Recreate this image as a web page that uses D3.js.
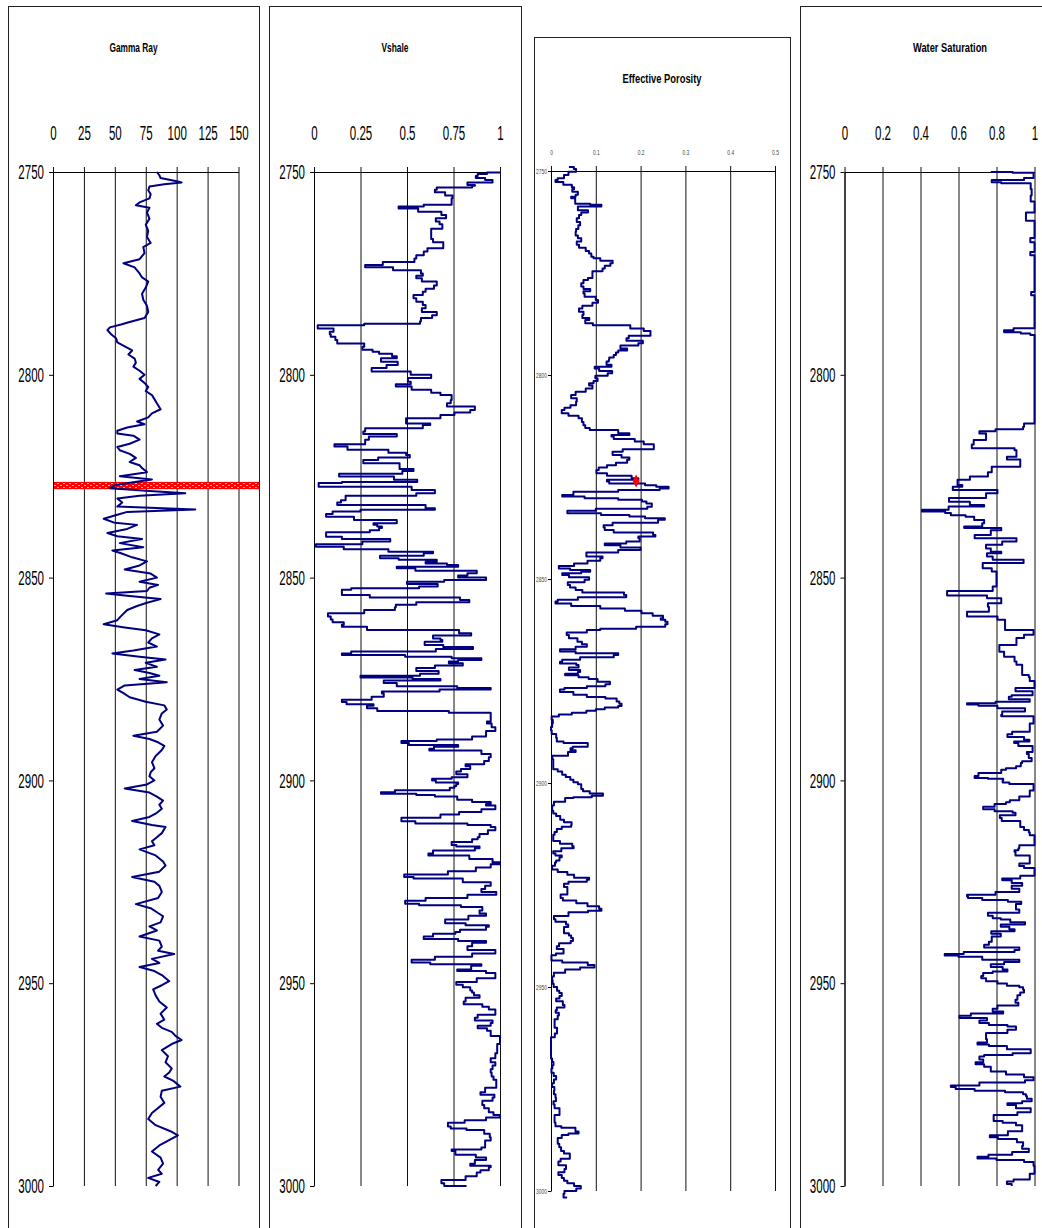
<!DOCTYPE html>
<html>
<head>
<meta charset="utf-8">
<script src="https://cdn.jsdelivr.net/npm/d3@7"></script>
<style>
  body { margin: 0; background: #fff; }
  svg { display: block; }
</style>
</head>
<body>
<div id="chart"></div>
<script>
// Tick Values
const depthTicks = [2750, 2800, 2850, 2900, 2950, 3000];
const gammaTicks = [0, 25, 50, 75, 100, 125, 150];
const vshaleTicks = [0, 0.25, 0.5, 0.75, 1];
const porosityTicks = [0, 0.1, 0.2, 0.3, 0.4, 0.5];
const swTicks = [0, 0.2, 0.4, 0.6, 0.8, 1];

// Log Curves As [depth, value]
const gammaRay = [
  [2750,84],[2750.8,86],[2751.5,87],[2752.3,100],[2752.6,104],[2753,90],[2753.6,78],[2754.5,77],[2755.5,79],[2756.5,78],[2757.5,70],[2758.2,67],[2758.8,78],[2760,76],[2761.5,78],[2763,75],[2764.5,77],[2766,76],[2767.5,79],[2768.5,73],[2770,74],[2771.5,70],[2772.5,57],[2773.5,66],[2775,70],[2776,72],[2777,77],[2778.5,75],[2780,72],[2781.5,73],[2783,76],[2784.5,77],[2786,74],[2787,62],[2787.6,55],[2788.3,46],[2789,44],[2790,47],[2791,51],[2792,52],[2793,58],[2794,64],[2795,61],[2796,66],[2797,67],[2798,65],[2799,70],[2800,74],[2801,70],[2802,74],[2803,77],[2804,75],[2805,80],[2806,82],[2807,84],[2808.5,87],[2809.5,80],[2810.5,77],[2811.5,68],[2812.2,74],[2813,60],[2813.8,52],[2814.5,52],[2815,65],[2816,70],[2817,62],[2817.8,52],[2818.6,54],[2819.5,62],[2820.5,67],[2821.5,62],[2822.3,70],[2823,72],[2824,76],[2825,54],[2825.8,80],[2826.5,65],[2827.2,50],[2828,46],[2828.6,75],[2829.2,107],[2829.8,70],[2830.5,52],[2831.5,56],[2832.5,52],[2833.2,115],[2833.8,60],[2834.5,52],[2835.5,41],[2836.5,50],[2837,68],[2838,60],[2839,44],[2839.8,52],[2840.5,72],[2841.5,54],[2842.5,73],[2843.3,48],[2844,55],[2845,64],[2846,76],[2847,70],[2848,58],[2849,79],[2850,84],[2851,70],[2851.8,85],[2852.5,78],[2853.3,76],[2853.9,43],[2854.5,60],[2855.3,87],[2856.2,76],[2857,68],[2858,60],[2859.5,55],[2860.5,52],[2861.5,41],[2862.3,58],[2863,75],[2864,86],[2865,80],[2866,77],[2867,84],[2868,65],[2868.7,48],[2869.5,70],[2870.2,91],[2871,75],[2872,84],
  [2872.8,66],[2873.5,78],[2874.2,86],[2875,70],[2875.8,92],[2876.6,58],[2877.6,52],[2878.5,57],[2879.5,62],[2880.6,75],[2881.5,90],[2882.5,92],[2883.5,88],[2885,86],[2886.5,89],[2888,84],[2889,65],[2889.8,78],[2890.6,85],[2891.5,90],[2892.5,88],[2894,83],[2895.5,80],[2897,82],[2898,79],[2899,78],[2900,82],[2901,76],[2902,58],[2903,78],[2904,84],[2905,89],[2906,86],[2907,88],[2908,84],[2909,78],[2910,64],[2911,80],[2911.5,91],[2913,88],[2914,84],[2915,80],[2916,82],[2917,70],[2918.5,83],[2920,89],[2921,91],[2922.5,86],[2923.8,64],[2925,82],[2926,86],[2927.5,88],[2929,85],[2930.5,67],[2931.5,79],[2932.5,84],[2933.5,89],[2935,87],[2936,78],[2937,84],[2938.5,70],[2939.5,86],[2941,88],[2942,85],[2942.8,98],[2944,80],[2945,86],[2946,70],[2947,82],[2948,88],[2949.5,94],[2950.5,88],[2951.5,81],[2953,83],[2954.5,86],[2956,92],[2957.5,87],[2959,90],[2960,84],[2961,88],[2962,96],[2963,99],[2964,104],[2965,96],[2966.5,88],[2968,93],[2969.5,91],[2971,96],[2972,94],[2973,90],[2974,97],[2975.5,103],[2976.5,88],[2978,87],[2979.5,90],[2981,84],[2982,80],[2983.5,77],[2985,83],[2986.5,95],[2987.5,101],[2988.5,95],[2990,86],[2991.5,80],[2993,87],[2994.5,89],[2996,85],[2997,88],[2998,77],[2999,86],[3000,83]
];

const vshale = [
  [2750.1,1.0],[2750.5,0.86],[2751,0.9],[2751.5,0.84],[2752,1.0],[2752.6,0.92],[2753.2,0.73],[2753.4,1.0],[2753.8,0.7],[2754.4,0.62],[2755,0.68],[2755.8,0.73],[2756.5,0.76],[2757.3,0.72],[2758.1,0.76],[2758.5,0.42],[2759,0.49],[2759.8,0.63],[2760.6,0.74],[2761.4,0.68],[2762.2,0.63],[2762.9,0.72],[2764,0.66],[2765.5,0.6],[2766.5,0.66],[2767.3,0.62],[2768,0.77],[2768.8,0.62],[2769.6,0.6],[2770.5,0.58],[2771.3,0.52],[2772.2,0.56],[2772.9,0.18],[2773.5,0.37],[2774.2,0.48],[2775,0.67],[2775.6,0.5],[2776.2,0.6],[2777,0.56],[2778,0.76],[2778.8,0.53],[2779.5,0.67],[2780.3,0.5],[2781.1,0.57],[2782,0.53],[2782.8,0.64],[2783.6,0.56],[2784.5,0.6],[2785.3,0.72],[2786,0.55],[2786.8,0.6],[2787.4,0.54],[2787.8,0.0],[2788.6,0.04],[2789.4,0.17],[2790,0.0],[2790.6,0.18],[2791.4,0.05],[2792.3,0.2],[2793.1,0.34],[2793.8,0.18],[2794.3,0.45],[2794.8,0.25],[2795.4,0.59],[2795.9,0.3],[2796.8,0.42],[2797.6,0.48],[2798.3,0.3],[2799.2,0.32],[2800,0.72],[2800.8,0.54],[2801.7,0.47],[2802.3,0.57],[2802.9,0.31],[2803.7,0.74],[2804.4,0.52],[2805,0.84],[2805.6,0.64],[2806.2,0.84],[2807,0.63],[2807.8,0.8],[2808.7,0.93],[2809.3,0.75],[2809.9,0.76],[2810.7,0.6],[2811.5,0.39],[2812,0.6],[2812.4,0.65],[2813.2,0.52],[2814,0.03],[2814.6,0.5],[2815.2,0.39],[2816,0.2],[2816.5,0.35],[2817.1,0.2],[2817.7,0.02],[2818.5,0.34],[2819.2,0.46],[2819.8,0.53],[2820.4,0.5],[2821,0.19],[2821.8,0.34],[2822.6,0.58],[2823.2,0.34],[2823.7,0.73],[2824.4,0.22],[2825.1,0.05],[2825.9,0.81],[2826.4,0.3],[2826.7,0.0],[2827.6,0.05],[2828.4,1.0],[2828.8,0.3],[2829.2,1.0],[2829.8,0.1],[2830.9,0.24],[2831.5,0.05],[2832.1,0.2],[2832.9,1.0],[2833.3,0.3],[2833.7,0.2],[2834.3,0.0],[2835,0.13],[2835.8,0.3],[2836.6,0.59],[2837,0.05],[2837.4,0.63],[2837.8,0.1],[2838.3,0.6],[2838.8,0.0],[2839.4,0.13],[2839.9,0.0],[2840.5,0.3],[2841.1,0.52],[2841.8,0.0],[2842.4,0.02],[2843,0.3],[2843.6,0.5],[2844,0.78],[2844.6,0.4],[2845.2,0.31],[2845.6,0.6],[2846.1,0.72],[2846.5,0.48],[2846.9,0.95],[2847.3,0.6],[2847.7,0.29],[2848.3,0.8],[2848.9,0.95],[2849.5,0.7],[2850,0.85],[2850.6,1.0],[2851,0.4],[2851.6,0.6],[2852.2,0.73],[2852.6,0.4],[2853,0.0],[2853.6,0.3],[2854.3,0.0],[2854.9,0.6],[2855.5,0.97],[2856.1,0.7],[2856.7,0.4],[2857.3,0.48],[2858,0.39],[2858.8,0.15],[2859.6,0.0],[2860.3,0.18],[2861,0.02],[2861.6,0.3],[2862.1,0.0],[2862.9,0.57],[2863.7,0.99],[2864.3,0.7],[2865,0.58],[2865.4,0.78],[2865.8,0.6],[2866.6,0.59],[2867.1,0.8],[2867.6,0.91],[2868.2,0.4],[2868.7,0.0],[2869.1,0.3],[2869.5,0.68],[2869.9,0.8],[2870.3,1.0],[2870.7,0.55],[2871.1,0.9],[2871.7,0.7],[2872.3,0.6],
  [2873,0.5],[2873.7,0.84],[2874.2,0.3],[2874.6,0.2],[2875,0.86],[2875.4,0.5],[2876,0.25],[2876.8,0.64],[2877.2,0.9],[2877.6,1.0],[2878.1,0.35],[2878.6,0.38],[2879.4,0.37],[2880.1,0.25],[2880.7,0.05],[2881.2,0.3],[2881.6,0.34],[2882.2,0.23],[2882.9,0.45],[2883.3,1.0],[2884,0.9],[2885.1,1.0],[2885.5,0.9],[2886,0.96],[2886.9,0.95],[2887.8,1.0],[2888.6,0.85],[2889.2,1.0],[2889.9,0.7],[2890.3,0.62],[2890.8,0.32],[2891.3,0.7],[2891.7,0.85],[2892.2,0.44],[2892.6,0.8],[2893.5,1.0],[2894.3,0.9],[2895.2,0.98],[2896,0.85],[2896.5,0.78],[2897.2,0.9],[2897.8,0.68],[2898.5,0.85],[2899.2,0.8],[2899.6,0.68],[2900,0.59],[2900.5,0.72],[2900.9,0.83],[2901.4,0.7],[2901.8,0.81],[2902.4,0.65],[2902.9,0.22],[2903.3,0.5],[2903.6,0.6],[2904,0.7],[2904.4,0.84],[2904.8,0.7],[2905.3,1.0],[2905.8,0.9],[2906.2,0.95],[2907.1,1.0],[2907.8,0.8],[2908.4,0.76],[2909.2,0.6],[2910.1,0.34],[2910.6,0.75],[2911,0.9],[2911.5,1.0],[2912.3,0.95],[2913.2,0.92],[2914,0.86],[2914.5,0.9],[2915.2,0.8],[2915.9,0.68],[2916.3,0.85],[2916.7,0.93],[2917.3,0.8],[2918,0.48],[2918.5,0.75],[2919.4,0.92],[2920.2,1.0],[2920.7,1.0],[2921.5,0.9],[2922.4,0.84],[2923.2,0.6],[2923.8,0.37],[2924.2,0.7],[2925.1,0.9],[2926,1.0],[2926.8,0.84],[2927.5,0.96],[2928.2,1.0],[2929,0.65],[2929.7,0.55],[2930.4,0.43],[2930.8,0.7],[2931.2,0.88],[2932.1,0.93],[2932.8,0.85],[2933.4,1.0],[2934.3,0.66],[2935.2,0.75],[2935.7,0.88],[2936.1,1.0],[2936.8,0.85],[2937.4,0.72],[2937.8,0.8],[2938.5,0.48],[2939.1,0.7],[2939.6,0.85],[2940,1.0],[2940.9,0.7],[2941.8,0.95],[2942.7,1.0],[2943.5,0.7],[2944.2,0.6],[2944.9,0.45],[2945.3,0.8],[2945.7,1.0],[2946.6,0.69],[2947,0.85],[2947.5,1.0],[2948.2,0.95],[2948.8,1.0],[2949.7,0.75],[2950.4,0.78],[2951,0.82],[2951.8,0.86],[2952.3,0.84],[2953,0.88],[2953.6,0.9],[2954.5,0.73],[2955.2,0.88],[2955.8,0.93],[2956.5,0.95],[2957.2,1.0],[2957.8,0.95],[2958.5,0.81],[2959.2,0.92],[2959.8,1.0],[2960.5,0.9],[2961.1,0.86],[2961.7,1.0],[2962.3,0.9],[2963,1.0],[2965,1.0],[2966.5,0.97],[2967.3,1.0],[2968.5,0.95],[2969.5,0.95],[2970.3,1.0],[2971.2,0.92],[2972,0.98],[2973,0.93],[2973.8,1.0],[2974.7,0.96],[2975.8,1.0],[2976.9,0.84],[2977.5,0.95],[2978.2,0.99],[2979,0.93],[2980,0.88],[2980.8,0.95],[2981.8,0.93],[2982.5,1.0],[2983.1,1.0],[2983.8,0.85],[2984.4,0.77],[2985.3,0.67],[2985.8,0.8],[2986.2,0.84],[2987.1,0.99],[2988,0.9],[2988.8,1.0],[2989.7,0.84],[2990.5,1.0],[2991,0.8],[2991.4,0.68],[2992.3,0.84],[2993,0.9],[2993.6,0.95],[2994.5,0.78],[2995,0.9],[2995.4,1.0],[2996.1,0.88],[2996.7,0.91],[2997.6,0.84],[2998.5,0.79],[2999.3,0.58],[3000,0.82]
];

const porosity = [
  [2749,0.04],[2749.5,0.062],[2750.2,0.05],[2751,0.028],[2751.8,0.03],[2752.2,0.0],[2752.7,0.02],[2753.4,0.035],[2754,0.058],[2754.5,0.045],[2755.1,0.05],[2755.8,0.07],[2756.3,0.04],[2756.7,0.05],[2757.4,0.058],[2758,0.05],[2758.3,0.125],[2758.7,0.1],[2759.2,0.02],[2759.6,0.1],[2760.2,0.065],[2760.8,0.07],[2761.6,0.055],[2762.5,0.06],[2763.3,0.07],[2764.2,0.052],[2764.9,0.06],[2765.8,0.05],[2766.5,0.07],[2767.3,0.065],[2768.1,0.05],[2768.8,0.075],[2769.6,0.08],[2770.2,0.09],[2771,0.09],[2771.4,0.1],[2772,0.12],[2772.6,0.155],[2773.2,0.11],[2773.9,0.13],[2774.6,0.1],[2775.5,0.085],[2776.2,0.1],[2776.7,0.065],[2777.5,0.08],[2778.3,0.055],[2778.9,0.09],[2779.5,0.085],[2780,0.06],[2780.8,0.09],[2781.6,0.11],[2782.3,0.1],[2783,0.085],[2783.7,0.055],[2784.5,0.07],[2785.3,0.075],[2786,0.065],[2786.5,0.106],[2787.3,0.047],[2787.8,0.14],[2788.6,0.214],[2789.2,0.2],[2789.8,0.244],[2790.4,0.2],[2791,0.147],[2791.6,0.19],[2792.2,0.22],[2792.8,0.17],[2793.5,0.14],[2794,0.2],[2794.5,0.1],[2795.1,0.19],[2795.7,0.09],[2796.3,0.17],[2796.7,0.088],[2797.5,0.16],[2798,0.11],[2798.4,0.085],[2799,0.13],[2799.6,0.143],[2800.2,0.11],[2800.8,0.088],[2801.5,0.12],[2802,0.07],[2802.6,0.1],[2803.3,0.085],[2804.1,0.07],[2804.9,0.04],[2805.7,0.05],[2806.5,0.065],[2807.4,0.047],[2808,0.04],[2808.6,0.02],[2809.4,0.028],[2810,0.05],[2810.6,0.073],[2811.5,0.065],[2812.3,0.08],[2813,0.073],[2813.5,0.1],[2814.3,0.2],[2814.7,0.15],[2815.1,0.12],[2815.7,0.16],[2816.3,0.214],[2817,0.2],[2817.6,0.259],[2818.2,0.2],[2818.8,0.12],[2819.6,0.155],[2820.2,0.16],[2820.8,0.19],[2821.5,0.15],[2822.1,0.14],[2822.7,0.11],[2823.3,0.103],[2824.1,0.1],[2824.7,0.15],[2825.3,0.21],[2825.7,0.18],[2826.1,0.07],[2826.6,0.19],[2827,0.23],[2827.4,0.24],[2827.8,0.285],[2828.2,0.2],[2828.6,0.1],[2829.4,0.0],[2829.8,0.05],[2830.2,0.1],[2830.6,0.2],[2831,0.206],[2831.5,0.22],[2832.3,0.23],[2832.8,0.2],[2833.3,0.0],[2833.9,0.073],[2834.3,0.15],[2834.7,0.2],[2835.1,0.22],[2835.5,0.288],[2836.2,0.19],[2836.8,0.085],[2837.4,0.15],[2838,0.09],[2838.6,0.19],[2839.2,0.266],[2839.6,0.2],[2840,0.19],[2840.8,0.206],[2841.3,0.13],[2841.7,0.11],[2842.3,0.2],[2842.9,0.2],[2843.5,0.1],[2844.1,0.058],[2844.5,0.1],[2844.9,0.13],[2845.5,0.09],[2846.2,0.073],[2846.8,0.03],[2847.4,0.005],[2847.8,0.08],[2848.2,0.095],[2848.6,0.04],[2849,0.01],[2849.6,0.07],[2850.2,0.1],[2850.8,0.05],[2851.5,0.025],[2852.1,0.06],[2852.7,0.05],[2853.3,0.09],[2853.9,0.236],[2854.5,0.1],[2855.1,0.02],[2855.5,0.01],[2856,0.01],[2856.6,0.08],[2857.2,0.14],[2857.8,0.19],[2858.4,0.214],[2859,0.24],[2859.6,0.26],[2860,0.23],[2860.5,0.28],[2861.1,0.24],[2861.7,0.27],[2862.2,0.11],[2862.5,0.11],[2863.1,0.05],[2863.7,0.02],[2864.5,0.06],[2865.4,0.058],[2866,0.08],[2866.6,0.08],[2867.2,0.03],[2867.8,0.01],[2868.2,0.1],[2868.6,0.2],[2869.2,0.08],[2869.8,0.05],[2870.3,0.0],[2870.7,0.04],[2871.1,0.073],[2871.7,0.05],
  [2872.3,0.03],[2872.8,0.1],[2873.2,0.02],[2873.6,0.043],[2874.1,0.08],[2874.5,0.088],[2875.2,0.12],[2875.8,0.143],[2876.3,0.1],[2876.7,0.06],[2877.1,0.0],[2877.7,0.04],[2878.4,0.06],[2878.9,0.1],[2879.3,0.143],[2880,0.15],[2880.6,0.155],[2881.1,0.16],[2881.5,0.14],[2881.9,0.1],[2882.3,0.1],[2882.8,0.058],[2883.2,0.035],[2883.7,0.0],[2884.5,0.003],[2885.4,0.005],[2886.3,0.0],[2887.1,0.0],[2888,0.003],[2888.9,0.02],[2889.8,0.006],[2890.2,0.05],[2890.6,0.114],[2891.1,0.05],[2891.5,0.047],[2892,0.04],[2892.4,0.07],[2893.3,0.006],[2894.2,0.0],[2895,0.01],[2895.9,0.0],[2896.6,0.01],[2897.2,0.02],[2898,0.03],[2898.5,0.036],[2899.2,0.05],[2899.8,0.05],[2900.3,0.07],[2900.7,0.065],[2901.5,0.07],[2902,0.073],[2902.6,0.1],[2903.1,0.132],[2903.5,0.05],[2903.7,0.05],[2904.6,0.013],[2905.5,0.0],[2906.2,0.005],[2906.8,0.0],[2907.5,0.01],[2908.1,0.013],[2909,0.028],[2909.6,0.03],[2910.3,0.062],[2910.7,0.028],[2911.3,0.02],[2912,0.006],[2912.7,0.01],[2913.3,0.0],[2914.2,0.01],[2914.9,0.03],[2915.5,0.065],[2916,0.036],[2916.7,0.01],[2917.3,0.0],[2917.8,0.02],[2918.2,0.028],[2919,0.01],[2919.5,0.013],[2920.3,0.005],[2921.2,0.0],[2921.8,0.03],[2922.5,0.043],[2923.2,0.06],[2923.7,0.11],[2924.2,0.05],[2924.7,0.028],[2925.5,0.03],[2926.5,0.043],[2927.3,0.03],[2928.2,0.013],[2928.8,0.04],[2929.5,0.073],[2930.2,0.09],[2930.8,0.125],[2931.3,0.1],[2931.7,0.065],[2932.6,0.013],[2933.4,0.0],[2934,0.02],[2934.7,0.047],[2935.3,0.03],[2936,0.028],[2936.8,0.03],[2937.4,0.05],[2938,0.04],[2938.7,0.058],[2939.3,0.03],[2940,0.006],[2940.7,0.02],[2941.3,0.036],[2941.8,0.02],[2942.2,0.002],[2943.5,0.0],[2944,0.05],[2944.6,0.114],[2945.2,0.08],[2945.7,0.05],[2946.5,0.013],[2947.4,0.0],[2948.3,0.005],[2949.2,0.002],[2950,0.01],[2950.9,0.017],[2951.5,0.02],[2952.2,0.028],[2952.8,0.01],[2953.5,0.013],[2954.4,0.04],[2955,0.02],[2955.7,0.006],[2956.3,0.015],[2957,0.02],[2957.9,0.01],[2958.8,0.006],[2960,0.01],[2961.4,0.017],[2962.3,0.0],[2963.5,0.0],[2965,0.0],[2966.5,0.0],[2967.5,0.0],[2968.4,0.005],[2969.2,0.006],[2970,0.0],[2971,0.002],[2971.8,0.01],[2972.7,0.013],[2973.6,0.0],[2974.5,0.005],[2975.4,0.01],[2976.3,0.003],[2977.1,0.017],[2978,0.005],[2978.8,0.006],[2979.7,0.01],[2980.6,0.028],[2981.4,0.01],[2982.3,0.006],[2983.2,0.01],[2984.1,0.01],[2984.5,0.036],[2985.4,0.073],[2985.9,0.05],[2986.3,0.028],[2987,0.02],[2987.6,0.01],[2988.4,0.02],[2989.3,0.017],[2990.2,0.028],[2990.8,0.03],[2991.5,0.054],[2992.1,0.03],[2992.8,0.013],[2993.7,0.02],[2994.6,0.047],[2995.4,0.013],[2996.1,0.02],[2996.8,0.028],[2997.5,0.03],[2998.1,0.043],[2998.8,0.06],[2999.4,0.073],[3000,0.04],[3000.7,0.02],[3001.6,0.036]
];

const waterSat = [
  [2750,0.77],[2750.2,1.0],[2751.5,0.99],[2752,0.9],[2752.5,0.65],[2752.8,1.0],[2753.5,0.96],[2754.2,1.0],[2755,0.97],[2755.8,1.0],[2756.5,0.96],[2757.3,1.0],[2760,1.0],[2761.4,0.91],[2762,1.0],[2766.3,1.0],[2766.8,0.956],[2767.3,1.0],[2769.7,1.0],[2770.1,0.956],[2770.5,1.0],[2779.6,1.0],[2780,0.965],[2780.4,1.0],[2788.5,1.0],[2789,0.78],[2789.5,0.9],[2789.8,0.956],[2790.2,1.0],[2812,1.0],[2812.8,0.89],[2813.4,0.99],[2813.9,0.6],[2814.5,0.82],[2815.3,0.67],[2816.1,0.82],[2817.2,0.54],[2818.1,0.8],[2818.6,0.99],[2820.2,0.82],[2820.9,0.89],[2821.4,0.96],[2822.7,0.89],[2824,0.66],[2825.1,0.85],[2825.9,0.47],[2827.2,0.72],[2827.6,0.52],[2828.4,0.62],[2829.2,0.99],[2830.4,0.5],[2831.3,0.6],[2832.1,0.72],[2832.5,0.75],[2833.3,0.346],[2833.7,0.47],[2834.1,0.59],[2834.6,0.53],[2835,0.745],[2835.8,0.62],[2836.6,0.85],[2837.4,0.6],[2837.8,0.66],[2838.3,0.99],[2839.5,0.55],[2840.3,0.82],[2841.1,0.99],[2841.9,0.67],[2842.8,0.82],[2843.6,0.72],[2844,0.93],[2844.8,0.57],[2845.6,0.99],[2846.4,0.895],[2847.7,0.56],[2848.5,0.99],[2849.3,0.61],[2850.5,0.99],[2850.9,0.61],[2852.2,0.99],[2853.3,0.57],[2854.4,0.51],[2855.1,0.99],[2856.3,0.66],[2857.2,0.85],[2858.4,0.67],[2859.6,0.62],[2860.4,0.99],[2862.1,0.7],[2862.9,0.99],[2864.1,1.0],[2864.9,0.89],[2866.6,0.92],[2868.3,0.71],[2869.5,0.97],[2870.7,0.82],[2871.5,0.99],[2872.8,0.88],[2874,0.99],
  [2874.5,0.95],[2875.5,1.0],[2877.2,1.0],[2877.6,0.8],[2878,1.0],[2879,0.98],[2879.4,0.78],[2880,0.95],[2880.6,1.0],[2881,0.59],[2881.3,0.7],[2881.6,0.71],[2882.2,0.9],[2883,1.0],[2883.8,0.66],[2884.2,0.99],[2886,1.0],[2888,0.95],[2888.6,0.815],[2889.3,0.9],[2890,0.99],[2890.4,0.956],[2890.8,0.83],[2891.5,1.0],[2893,0.98],[2893.5,0.94],[2894.5,1.0],[2895.3,0.97],[2895.7,0.9],[2896.5,0.956],[2897,0.85],[2897.4,0.85],[2898.2,0.8],[2898.9,0.61],[2899.4,0.76],[2899.6,0.75],[2900,0.92],[2900.5,0.745],[2900.9,0.99],[2902.5,1.0],[2904,0.95],[2904.9,0.89],[2905.4,0.85],[2905.8,0.85],[2906.5,0.73],[2907.1,0.73],[2907.6,0.85],[2908,0.92],[2908.6,0.88],[2909.3,0.755],[2910,0.9],[2911,0.95],[2911.5,0.9],[2912.2,0.99],[2912.8,0.95],[2913.5,1.0],[2916,1.0],[2916.7,0.84],[2917.2,0.99],[2917.6,0.8],[2918.5,1.0],[2920.5,0.95],[2921.1,0.89],[2921.6,1.0],[2923.5,1.0],[2924.2,0.85],[2924.6,0.81],[2925.3,0.95],[2926,0.92],[2926.7,0.84],[2927.5,1.0],[2928.2,0.59],[2928.6,0.7],[2929,0.6],[2929.5,0.85],[2929.9,0.87],[2930.5,0.99],[2931.2,0.815],[2931.8,0.99],[2932.6,0.85],[2933.4,0.66],[2934,0.9],[2934.3,0.745],[2935,1.0],[2935.5,0.9],[2936.1,0.745],[2936.7,0.99],[2937.2,0.8],[2937.8,0.745],[2938.5,0.9],[2939.1,0.65],[2939.8,0.9],[2940.5,0.62],[2941.2,0.85],[2941.8,0.99],[2942.3,0.8],[2942.8,0.455],[2943.2,0.6],[2943.5,0.6],[2944.2,0.85],[2944.8,0.99],[2945.3,0.69],[2946,0.85],[2946.6,0.815],[2947.1,0.9],[2947.5,0.66],[2948.2,0.8],[2948.8,0.64],[2949.5,0.85],[2950.1,0.76],[2950.6,0.95],[2951,0.89],[2951.6,0.99],[2952.3,0.9],[2953,0.95],[2954.1,0.87],[2954.8,0.93],[2955.5,0.9],[2956.3,0.71],[2957,0.85],[2957.5,0.82],[2958,0.51],[2958.6,0.7],[2959.2,0.8],[2959.8,0.62],[2960.3,0.9],[2960.7,0.815],[2961.1,0.99],[2961.5,0.815],[2962.3,0.9],[2963.3,0.59],[2963.8,0.9],[2964.6,0.6],[2965.1,0.8],[2965.5,0.72],[2966.3,0.99],[2967.3,0.97],[2967.7,0.8],[2968.1,0.67],[2968.8,0.75],[2969.5,0.71],[2970,0.67],[2970.6,0.8],[2971.2,0.74],[2971.8,0.8],[2972.5,0.9],[2973.2,0.99],[2973.9,1.0],[2974.5,0.9],[2975.2,0.52],[2975.6,0.6],[2976.1,0.57],[2976.5,0.8],[2976.9,0.89],[2977.4,0.99],[2977.8,0.92],[2978.5,1.0],[2979.1,0.97],[2979.6,0.9],[2980,0.815],[2980.8,0.99],[2981.8,0.97],[2982.5,0.85],[2983.5,0.72],[2984,0.85],[2984.4,0.815],[2985,0.99],[2985.7,0.88],[2986.5,0.99],[2987.5,0.73],[2988,0.8],[2988.4,0.815],[2989.2,1.0],[2990.1,0.88],[2990.8,0.99],[2991.6,0.95],[2992.3,0.815],[2992.8,0.7],[2993.2,0.7],[2993.6,0.9],[2994.1,0.99],[2995,1.0],[2997,1.0],[2998.4,0.95],[2998.9,0.83],[2999.5,0.88],[3000,0.88]
];

// Markers: Selected Depth Band (Gamma Ray) & Point (Porosity)
const markerBand = [2826.4, 2828.2];
const markerPoint = [2826, 0.19];

// Track Layout (px); Gamma Ray Drawn As Linear Trace, Others Stepped
let tracks = [
  { title: "Gamma Ray", data: gammaRay, ticks: gammaTicks, domain: [0, 150], box: [8, 6, 251], xr: [53, 238.5], yr: [172, 1186], titleY: 52, titleW: 48, small: false, curve: d3.curveLinear },
  { title: "Vshale", data: vshale, ticks: vshaleTicks, domain: [0, 1], box: [269, 6, 252], xr: [314, 500], yr: [172, 1186], titleY: 52, titleW: 27, small: false, curve: d3.curveStep },
  { title: "Effective Porosity", data: porosity, ticks: porosityTicks, domain: [0, 0.5], box: [534, 37, 256], xr: [551, 775], yr: [171, 1191], titleY: 83, titleW: 79, small: true, curve: d3.curveStep },
  { title: "Water Saturation", data: waterSat, ticks: swTicks, domain: [0, 1], box: [800, 6, 300], xr: [844.5, 1034.5], yr: [172, 1186], titleY: 52, titleW: 74, small: false, curve: d3.curveStep }
];

let w = 1042, h = 1228;
let font = "'Liberation Sans', Arial, sans-serif";
let svg = d3.select("#chart").append("svg").attr("width", w).attr("height", h);

// Hatch Pattern For Marker Band
let pat = svg.append("defs").append("pattern").attr("id", "hatch")
  .attr("width", 6).attr("height", 4).attr("patternUnits", "userSpaceOnUse");
pat.append("rect").attr("width", 6).attr("height", 4).attr("fill", "#ff0000");
pat.append("path").attr("d", "M0,1.5h2M3,3.5h2").attr("stroke", "#ffb0b0").attr("stroke-width", 1);

tracks.forEach((t) => {
  let x = d3.scaleLinear().domain(t.domain).range(t.xr);
  let y = d3.scaleLinear().domain([2750, 3000]).range(t.yr);
  let g = svg.append("g");
  let plotH = t.yr[1] - t.yr[0];
  let sx = t.small ? 0.7 : 0.55;
  let fs = t.small ? 7 : 21;
  let col = t.small ? "#444" : "#000";

  // Track Frame
  g.append("rect").attr("x", t.box[0] + 0.5).attr("y", t.box[1] + 0.5).attr("width", t.box[2]).attr("height", 1400)
    .attr("fill", "none").attr("stroke", "#222").attr("stroke-width", 1);

  // Title
  g.append("text").attr("x", (t.box[0] + t.box[0] + t.box[2]) / 2).attr("y", t.titleY)
    .attr("text-anchor", "middle").attr("font-family", font).attr("font-weight", "bold").attr("font-size", 13)
    .attr("textLength", t.titleW).attr("lengthAdjust", "spacingAndGlyphs").text(t.title);

  // Top Axis With Grid Lines
  let xAxis = d3.axisTop(x).tickValues(t.ticks).tickFormat((d) => d).tickSizeInner(-plotH).tickSizeOuter(0).tickPadding(t.small ? 16 : 32);
  let gx = g.append("g").attr("transform", "translate(0," + t.yr[0] + ")").call(xAxis);
  gx.select(".domain").attr("stroke", "#000");
  gx.selectAll(".tick line").attr("y1", -5).attr("y2", plotH).attr("stroke", "#111").attr("stroke-width", 1);
  gx.selectAll(".tick text").attr("font-family", font).attr("font-size", fs).attr("fill", col)
    .attr("transform", "scale(" + sx + ",1)");

  // Depth Axis
  let yAxis = d3.axisLeft(y).tickValues(depthTicks).tickFormat((d) => d).tickSizeInner(t.small ? 3 : 4).tickSizeOuter(0);
  let gy = g.append("g").attr("transform", "translate(" + t.xr[0] + ",0)").call(yAxis);
  gy.select(".domain").attr("stroke", "#000");
  gy.selectAll(".tick line").attr("stroke", "#000");
  gy.selectAll(".tick text").attr("font-family", font).attr("font-size", fs).attr("fill", col)
    .attr("x", -(t.small ? 4 : 9) / sx).attr("transform", "scale(" + sx + ",1)");

  // Depth Band Marker On Gamma Ray Track
  if (t.title == "Gamma Ray")
    g.append("rect").attr("x", x(0) + 1).attr("y", y(markerBand[0])).attr("width", t.box[0] + t.box[2] - x(0) - 1)
      .attr("height", y(markerBand[1]) - y(markerBand[0])).attr("fill", "url(#hatch)");

  // Draw Curve
  let line = d3.line().x((d) => x(d[1])).y((d) => y(d[0])).curve(t.curve);
  g.append("path").datum(t.data).attr("d", line).attr("fill", "none")
    .attr("stroke", "#000080").attr("stroke-width", 2).attr("stroke-linejoin", "round");

  // Point Marker On Porosity Track
  if (t.small) {
    let cx = x(markerPoint[1]), cy = y(markerPoint[0]);
    g.append("path").attr("d", "M" + cx + "," + (cy - 6.5) + "L" + (cx + 3.5) + "," + cy + "L" + cx + "," + (cy + 6.5) + "L" + (cx - 3.5) + "," + cy + "Z")
      .attr("fill", "#ff0000");
  }
});
</script>
</body>
</html>
